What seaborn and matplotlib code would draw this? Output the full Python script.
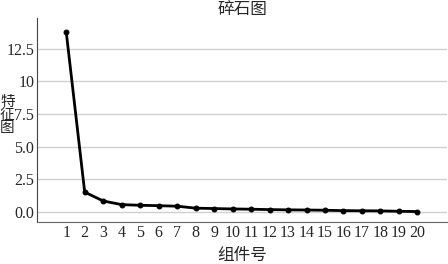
import numpy as np
import seaborn as sns
import matplotlib.pyplot as plt

# Eigenvalues for each component
components = list(range(1, 21))
eigenvalues = [13.8, 1.52, 0.84, 0.56, 0.51, 0.48, 0.44, 0.29, 0.26, 0.23,
               0.21, 0.18, 0.16, 0.15, 0.13, 0.10, 0.09, 0.08, 0.05, 0.03]
yticks = [0.0, 2.5, 5.0, 7.5, 10, 12.5]
ytick_labels = ["0.0", "2.5", "5.0", "7.5", "10", "12.5"]

sns.set_style("white")
plt.rcParams['font.family'] = ['Liberation Serif', 'Noto Sans CJK SC']

fig = plt.figure(figsize=(4.48, 2.64), dpi=100)
ax = fig.add_axes([37 / 448, 42 / 264, 410 / 448, 204 / 264])

ax.grid(axis='y', color='#d0d0d0', linewidth=1)
ax.set_axisbelow(True)

sns.lineplot(x=components, y=eigenvalues, ax=ax, color='black', linewidth=2,
             marker='o', markersize=3.5, markeredgecolor='black')

ax.set_xlim(-0.58, 21.6)
ax.set_ylim(-0.77, 14.85)
ax.set_xticks(components)
ax.set_xticklabels([str(c) for c in components])
ax.set_yticks(yticks)
ax.set_yticklabels(ytick_labels)
ax.tick_params(labelsize=11.5, length=0, pad=2)

ax.set_title("碎石图", fontsize=12, pad=3)
ax.set_xlabel("组件号", fontsize=12, labelpad=5)
ax.set_ylabel("特\n征\n图", fontsize=10.5, rotation=0, linespacing=1.0,
              ha='left', va='center')
ax.yaxis.set_label_coords(-37 / 410, 0.52)

sns.despine(ax=ax, top=True, right=True)
ax.spines['left'].set_color('#444444')
ax.spines['bottom'].set_color('#666666')

fig.savefig("out.png", dpi=100)
